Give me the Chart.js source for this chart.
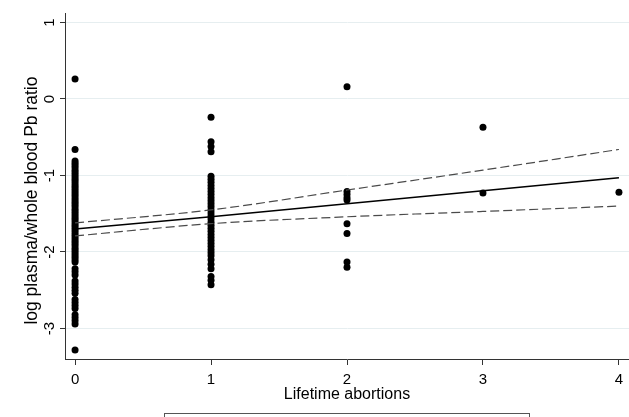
<!DOCTYPE html>
<html>
<head>
<meta charset="utf-8">
<script src="https://cdn.jsdelivr.net/npm/chart.js@4.4.1/dist/chart.umd.min.js"></script>
<style>
  html, body { margin: 0; padding: 0; background: #ffffff; }
  #wrap { width: 629px; height: 417px; }
</style>
</head>
<body>
<div id="wrap"><canvas id="c" width="629" height="417"></canvas></div>
<script>
// ---- data ----
const xTicks = [0, 1, 2, 3, 4];
const yTicks = [-3, -2, -1, 0, 1];

const abort0 = [0.26, -0.66, -0.81, -0.84, -0.87, -0.90, -0.93, -0.96, -0.99, -1.02, -1.05, -1.08,
  -1.11, -1.14, -1.17, -1.20, -1.23, -1.26, -1.29, -1.32, -1.35, -1.38, -1.41, -1.44, -1.47, -1.50,
  -1.53, -1.56, -1.59, -1.62, -1.65, -1.68, -1.71, -1.74, -1.77, -1.80, -1.83, -1.86, -1.89, -1.92,
  -1.95, -1.98, -2.01, -2.04, -2.07, -2.10, -2.13, -2.22, -2.26, -2.30, -2.38, -2.42, -2.46, -2.50,
  -2.54, -2.62, -2.66, -2.70, -2.74, -2.82, -2.86, -2.90, -2.94, -3.28];
const abort1 = [-0.24, -0.56, -0.62, -0.69, -1.01, -1.05, -1.09, -1.13, -1.17, -1.21, -1.25, -1.29,
  -1.33, -1.37, -1.41, -1.45, -1.49, -1.53, -1.57, -1.61, -1.65, -1.69, -1.73, -1.77, -1.81, -1.85,
  -1.89, -1.93, -1.97, -2.01, -2.05, -2.10, -2.16, -2.22, -2.32, -2.37, -2.43];
const abort2 = [0.16, -1.21, -1.25, -1.29, -1.32, -1.63, -1.76, -2.13, -2.20];
const abort3 = [-0.37, -1.23];
const abort4 = [-1.22];

const fitX = [0, 1, 2, 3, 4];
const fitY = [-1.70, -1.54, -1.37, -1.20, -1.03];
const ciUpper = [-1.62, -1.45, -1.19, -0.93, -0.66];
const ciLower = [-1.79, -1.63, -1.54, -1.47, -1.40];

const xTitle = 'Lifetime abortions';
const yTitle = 'log plasma/whole blood Pb ratio';

// ---- build datasets ----
const columns = [abort0, abort1, abort2, abort3, abort4];
const scatterPts = [];
columns.forEach((vals, i) => vals.forEach(v => scatterPts.push({ x: xTicks[i], y: v })));
const toPts = ys => fitX.map((x, i) => ({ x: x, y: ys[i] }));

const boxPlugin = {
  id: 'legendBox',
  afterDraw(chart) {
    const ctx = chart.ctx;
    ctx.save();
    ctx.strokeStyle = '#555555';
    ctx.lineWidth = 1;
    ctx.strokeRect(164.5, 413.5, 365, 20);
    ctx.restore();
  }
};

new Chart(document.getElementById('c'), {
  type: 'scatter',
  data: {
    datasets: [
      {
        type: 'line', label: 'ci upper', data: toPts(ciUpper),
        borderColor: '#4a4a4a', borderWidth: 1.2, borderDash: [9, 4],
        pointRadius: 0, fill: false, cubicInterpolationMode: 'monotone', order: 1
      },
      {
        type: 'line', label: 'ci lower', data: toPts(ciLower),
        borderColor: '#4a4a4a', borderWidth: 1.2, borderDash: [9, 4],
        pointRadius: 0, fill: false, cubicInterpolationMode: 'monotone', order: 1
      },
      {
        type: 'line', label: 'fit', data: toPts(fitY),
        borderColor: '#000000', borderWidth: 1.6,
        pointRadius: 0, fill: false, order: 0
      },
      {
        type: 'scatter', label: 'obs', data: scatterPts,
        backgroundColor: '#000000', borderWidth: 0, pointRadius: 3.5, order: 2
      }
    ]
  },
  options: {
    responsive: false,
    animation: false,
    layout: { autoPadding: false, padding: { left: 0, right: 0, top: 13, bottom: 12.4 } },
    plugins: { legend: { display: false }, tooltip: { enabled: false } },
    scales: {
      x: {
        type: 'linear', min: -0.074, max: 4.074,
        afterBuildTicks: s => { s.ticks = xTicks.map(v => ({ value: v })); },
        afterFit: s => { s.height = 45.6; s.paddingLeft = 0; s.paddingRight = 0; },
        grid: { drawOnChartArea: false, drawTicks: true, tickLength: 6, tickColor: '#333333', tickWidth: 1 },
        border: { display: true, color: '#333333', width: 1 },
        ticks: {
          padding: 5.5, color: '#000000',
          font: { family: '"Liberation Sans", Arial, sans-serif', size: 15 },
          callback: v => String(v)
        },
        title: {
          display: true, text: xTitle, color: '#000000',
          font: { family: '"Liberation Sans", Arial, sans-serif', size: 16 },
          padding: { top: 0, bottom: 0 }
        }
      },
      y: {
        type: 'linear', min: -3.399, max: 1.124,
        afterBuildTicks: s => { s.ticks = yTicks.map(v => ({ value: v })); },
        afterFit: s => { s.width = 65; s.paddingTop = 0; s.paddingBottom = 0; },
        grid: { color: '#e6eef0', lineWidth: 1, drawTicks: true, tickLength: 5, tickColor: '#333333', tickWidth: 1 },
        border: { display: true, color: '#333333', width: 1 },
        ticks: {
          padding: 3.3, color: '#000000', minRotation: 90, maxRotation: 90, crossAlign: 'center',
          font: { family: '"Liberation Sans", Arial, sans-serif', size: 15 },
          callback: v => String(v)
        },
        title: {
          display: true, text: yTitle + '      ', color: '#000000',
          font: { family: '"Liberation Sans", Arial, sans-serif', size: 17.5 },
          padding: { top: 21.2, bottom: 0 }
        }
      }
    }
  },
  plugins: [boxPlugin]
});
</script>
</body>
</html>
